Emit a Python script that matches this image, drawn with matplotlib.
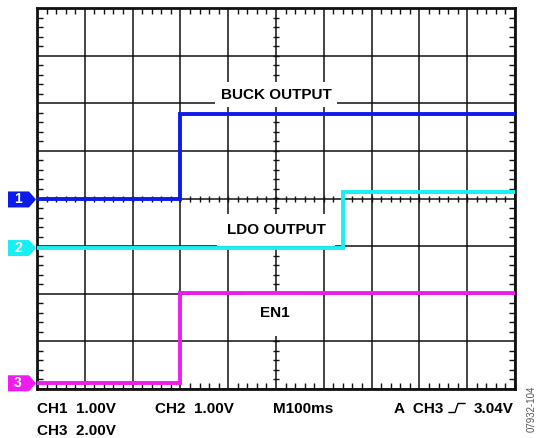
# scope capture: buck / LDO / EN1 start-up
import numpy as np
import matplotlib
matplotlib.use('Agg')
import matplotlib.pyplot as plt
import matplotlib.transforms as mtransforms
from matplotlib.patches import Polygon
from matplotlib.lines import Line2D
from matplotlib.ticker import MultipleLocator

plt.rcParams['font.family'] = ['Liberation Sans', 'DejaVu Sans']

# 数据 (time in ms, volts)
ch1_t = [0, 300, 1000]
ch1_v = [0.0, 1.80, 1.80]
ch2_t = [0, 640, 1000]
ch2_v = [0.0, 1.17, 1.17]
ch3_t = [0, 300, 1000]
ch3_v = [0.0, 3.80, 3.80]

volts_per_div = [1.0, 1.0, 2.0]
ground_div = [-0.02, -1.04, -3.88]   # ground marker position in divisions
ms_per_div = 100.0
colors = ['#0d1bea', '#19eff0', '#f01bef']

labels = ['BUCK OUTPUT', 'LDO OUTPUT', 'EN1']
label_pos = [(5.0, 2.18), (5.0, -0.66), (4.98, -2.41)]
label_pad = [0.35, 0.6, 1.0]

W, H = 538, 438
fig = plt.figure(figsize=(W / 100, H / 100), dpi=100)
ax = fig.add_axes([37 / W, 1 - 389 / H, 478 / W, 381 / H])
ax.set_xlim(0, 10)
ax.set_ylim(-4, 4)

# 网格
ax.xaxis.set_major_locator(MultipleLocator(1))
ax.yaxis.set_major_locator(MultipleLocator(1))
ax.xaxis.set_minor_locator(MultipleLocator(0.2))
ax.yaxis.set_minor_locator(MultipleLocator(0.2))
ax.grid(True, which='major', color='#111111', lw=1.1, zorder=1)
ax.set_axisbelow(True)
ax.tick_params(which='both', direction='in', top=True, right=True,
               labelbottom=False, labelleft=False)
ax.tick_params(which='major', length=0)
ax.tick_params(which='minor', length=4, width=1, color='#111111')
for s in ax.spines.values():
    s.set_linewidth(2)
    s.set_color('#111111')

# centre cross ticks
xs = np.arange(0, 10.001, 0.2)
ys = np.arange(-4, 4.001, 0.2)
ax.plot(xs, np.zeros_like(xs), ls='none', marker='|', ms=5, mew=1, color='#111111', zorder=1.5)
ax.plot(np.full_like(ys, 5.0), ys, ls='none', marker='_', ms=5, mew=1, color='#111111', zorder=1.5)

# 标签
for txt, (x, y), p in zip(labels, label_pos, label_pad):
    ax.text(x, y, txt, ha='center', va='center', fontsize=11, fontweight='bold',
            zorder=2, bbox=dict(boxstyle='square,pad=%s' % p, fc='white', ec='none'))

# 波形
for t, v, vpd, g, c in zip([ch1_t, ch2_t, ch3_t], [ch1_v, ch2_v, ch3_v],
                           volts_per_div, ground_div, colors):
    x = np.array(t) / ms_per_div
    y = np.array(v) / vpd + g
    ax.plot(x, y, drawstyle='steps-post', color=c, lw=2.8, zorder=3,
            solid_joinstyle='miter')

# ground markers
trans = mtransforms.blended_transform_factory(fig.transFigure, ax.transData)
hh = 8 / 47.6
for i, (g, c) in enumerate(zip(ground_div, colors)):
    x0, x1, x2 = 8 / W, 29 / W, 36 / W
    poly = Polygon([(x0, g - hh), (x1, g - hh), (x2, g), (x1, g + hh), (x0, g + hh)],
                   closed=True, fc=c, ec='none', transform=trans, clip_on=False)
    fig.add_artist(poly)
    fig.text(18 / W, g, str(i + 1), transform=trans, color='white', fontsize=10,
             fontweight='bold', ha='center', va='center')

# bottom readout
def fx(px):
    return px / W

def fy(py):
    return 1 - py / H

kw = dict(fontsize=11, fontweight='bold', va='baseline')
fig.text(fx(37), fy(413), 'CH1  1.00V', ha='left', **kw)
fig.text(fx(155), fy(413), 'CH2  1.00V', ha='left', **kw)
fig.text(fx(273), fy(413), 'M100ms', ha='left', **kw)
fig.text(fx(443), fy(413), 'A  CH3', ha='right', **kw)
fig.text(fx(514), fy(413), '3.04V', ha='right', **kw)
fig.text(fx(37), fy(435), 'CH3  2.00V', ha='left', **kw)
# trigger edge symbol
fig.add_artist(Line2D([fx(449), fx(455), fx(458), fx(465)],
                      [fy(412.5), fy(412.5), fy(403.5), fy(403.5)],
                      color='black', lw=1.0, transform=fig.transFigure))

fig.text(fx(532), fy(386), '07932-104', rotation=90, ha='center', va='top',
         fontsize=7, color='#555555')

fig.savefig('out.png', dpi=100)
